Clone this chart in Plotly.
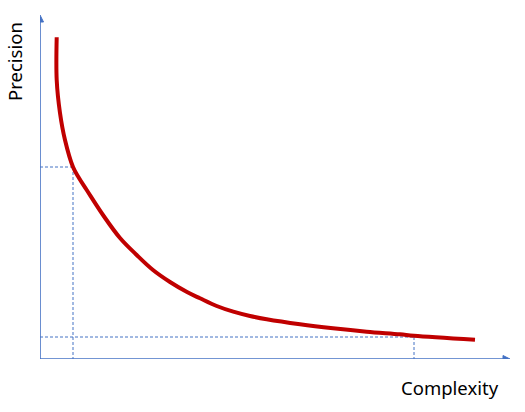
import plotly.graph_objects as go

# Curve values (complexity vs precision, arbitrary units)
complexity = [16.7, 16.7, 20, 25, 33, 39, 46.7, 63, 80, 96.7, 113, 130, 147, 160, 176.7, 193.3, 210, 226.7, 260, 293, 326.7, 360, 374, 435]
precision = [320.7, 278, 245, 218, 191, 180, 168, 143, 120, 103, 88, 76, 66, 59.7, 52, 46.3, 42, 38.7, 33.7, 29.7, 26.3, 23.7, 22.3, 18.3]

# Reference points marked by dashed guides
mark_x = [33, 374]
mark_y = [191, 21]

axis_color = "#4472C4"
curve_color = "#C00000"

fig = go.Figure()
fig.add_trace(go.Scatter(
    x=complexity, y=precision, mode="lines",
    line=dict(color=curve_color, width=4, shape="spline", smoothing=1.0),
    hoverinfo="skip", cliponaxis=False,
))

shapes = []
# axes
shapes.append(dict(type="line", xref="x", yref="y", x0=0, y0=-1, x1=465, y1=-1,
                   line=dict(color=axis_color, width=1.6)))
shapes.append(dict(type="line", xref="x", yref="y", x0=0, y0=-1, x1=0, y1=338,
                   line=dict(color=axis_color, width=1.6)))
# arrow heads
shapes.append(dict(type="path", xref="x", yref="y",
                   path="M 470 -1 L 463 2.5 L 463 -4.5 Z",
                   fillcolor=axis_color, line=dict(color=axis_color, width=1)))
shapes.append(dict(type="path", xref="x", yref="y",
                   path="M 0 343 L -3.5 336 L 3.5 336 Z",
                   fillcolor=axis_color, line=dict(color=axis_color, width=1)))
# dashed guides
for mx, my in zip(mark_x, mark_y):
    shapes.append(dict(type="line", xref="x", yref="y", x0=0, y0=my, x1=mx, y1=my,
                       line=dict(color=axis_color, width=1, dash="3px,2px"), layer="below"))
    shapes.append(dict(type="line", xref="x", yref="y", x0=mx, y0=my, x1=mx, y1=-1,
                       line=dict(color=axis_color, width=1, dash="3px,2px"), layer="below"))

fig.update_layout(
    width=525, height=412,
    margin=dict(l=40, r=15, t=15, b=53),
    paper_bgcolor="white", plot_bgcolor="white",
    showlegend=False,
    xaxis=dict(range=[0, 470], visible=False, fixedrange=True),
    yaxis=dict(range=[-1, 343], visible=False, fixedrange=True),
    shapes=shapes,
    annotations=[
        dict(text="Complexity", xref="paper", yref="paper", x=(450-40)/470, y=-(387-359)/344,
             showarrow=False, font=dict(family="Noto Sans", size=18.5, color="#000000"),
             xanchor="center", yanchor="middle"),
        dict(text="Precision", xref="paper", yref="paper", x=-(40-14)/470, y=(359-62)/344,
             textangle=-90, showarrow=False,
             font=dict(family="Noto Sans", size=18.5, color="#000000"),
             xanchor="center", yanchor="middle"),
    ],
)

fig.write_html("out.html", config={"displayModeBar": False},
               post_script="document.body.style.margin='0px';")
